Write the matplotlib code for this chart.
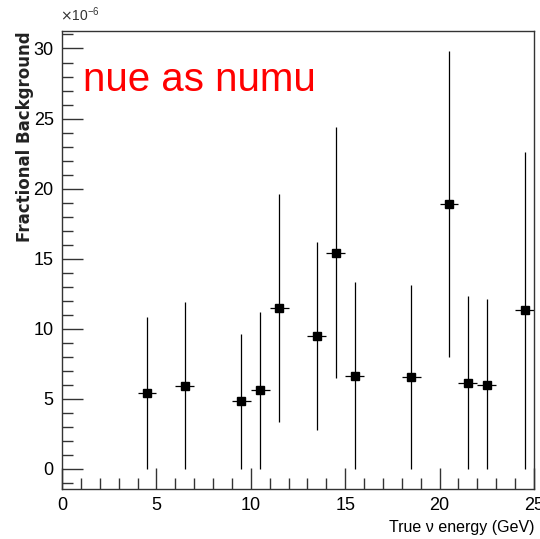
import numpy as np
import matplotlib.pyplot as plt
from matplotlib.ticker import MultipleLocator

# bin centres (GeV) and fractional background (x1e-6) with asymmetric errors
energy = [4.5, 6.5, 9.5, 10.5, 11.5, 13.5, 14.5, 15.5, 18.5, 20.5, 21.5, 22.5, 24.5]
frac_bkg = [5.4, 5.9, 4.8, 5.6, 11.5, 9.5, 15.4, 6.6, 6.55, 18.9, 6.1, 6.0, 11.35]
err_up = [10.8, 11.9, 9.6, 11.2, 19.6, 16.2, 24.4, 13.3, 13.1, 29.8, 12.3, 12.1, 22.6]
err_lo = [0.0, 0.0, 0.0, 0.0, 3.35, 2.75, 6.5, 0.0, 0.0, 7.95, 0.0, 0.0, 0.0]
bin_halfwidth = 0.5

plt.rcParams['font.family'] = ['Liberation Sans', 'DejaVu Sans']

fig = plt.figure(figsize=(5.4, 5.39), dpi=100)
ax = fig.add_axes([0.1148, 0.0928, 0.8741, 0.8497])

y = np.array(frac_bkg)
yerr = [y - np.array(err_lo), np.array(err_up) - y]
ax.errorbar(energy, y, xerr=bin_halfwidth, yerr=yerr, fmt='s', color='black',
            markersize=6, elinewidth=0.9, capsize=0)

ax.set_xlim(0, 25)
ax.set_ylim(-1.45, 31.25)
ax.xaxis.set_major_locator(MultipleLocator(5))
ax.xaxis.set_minor_locator(MultipleLocator(1))
ax.yaxis.set_major_locator(MultipleLocator(5))
ax.yaxis.set_minor_locator(MultipleLocator(1))
ax.tick_params(which='both', direction='in', top=False, right=False, width=1, color='#333333')
ax.tick_params(which='major', length=15, labelsize=13, pad=6)
ax.tick_params(which='minor', length=8)
for s in ax.spines.values():
    s.set_color('#333333')
    s.set_linewidth(1)

ax.set_ylabel('Fractional Background', fontsize=12, fontweight='bold',
              family=['DejaVu Sans'], loc='top', labelpad=0, color='#222222')
ax.set_xlabel('True \u03bd energy (GeV)', fontsize=11.5, loc='right', labelpad=4)

fig.text(0.111, 0.955, r'$\times$10$^{\mathregular{-6}}$', fontsize=10, color='#333333', ha='left', va='bottom')
ax.text(0.045, 0.935, 'nue as numu', transform=ax.transAxes, fontsize=29, color='red',
        ha='left', va='top')

fig.savefig('out.png', dpi=100)
